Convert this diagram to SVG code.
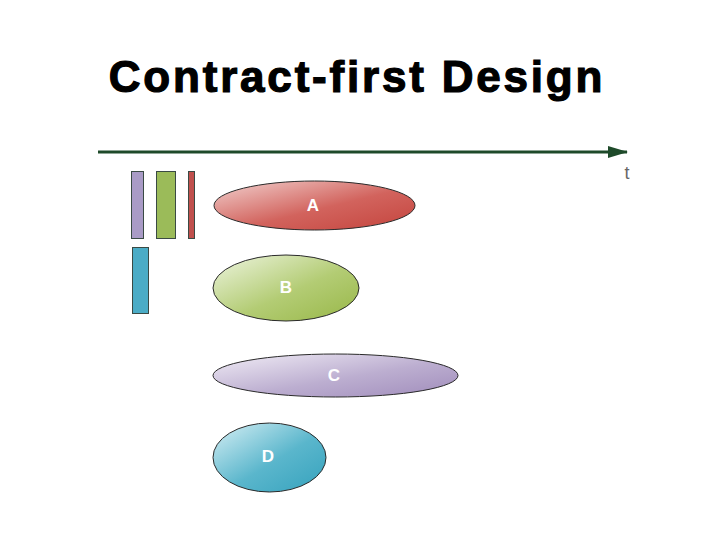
<svg xmlns="http://www.w3.org/2000/svg" width="720" height="540" viewBox="0 0 720 540">
<style>
.title{font-family:"Liberation Sans",Arial,sans-serif;font-weight:bold;font-size:44px;fill:#000;stroke:#000;stroke-width:1.2}
.lbl{font-family:"Liberation Sans",Arial,sans-serif;font-weight:bold;font-size:17px;fill:#fff;text-anchor:middle;dominant-baseline:central}
.bar{stroke:#3a4a44;stroke-width:1}
.ell{stroke:#2a2a2a;stroke-width:1}
</style>
<defs>
<linearGradient id="gA" x1="0" y1="0" x2="1" y2="1"><stop offset="0" stop-color="#f2d2d0"/><stop offset="0.55" stop-color="#d2635d"/><stop offset="1" stop-color="#c4443d"/></linearGradient>
<linearGradient id="gB" x1="0" y1="0" x2="1" y2="1"><stop offset="0" stop-color="#eef5e0"/><stop offset="0.55" stop-color="#b3cc74"/><stop offset="1" stop-color="#98b748"/></linearGradient>
<linearGradient id="gC" x1="0" y1="0" x2="1" y2="1"><stop offset="0" stop-color="#f1edf6"/><stop offset="0.55" stop-color="#bcaed0"/><stop offset="1" stop-color="#a08cbb"/></linearGradient>
<linearGradient id="gD" x1="0" y1="0" x2="1" y2="1"><stop offset="0" stop-color="#d8f0f5"/><stop offset="0.55" stop-color="#5ab6cc"/><stop offset="1" stop-color="#35a2bd"/></linearGradient>
<marker id="ah" markerWidth="20" markerHeight="14" refX="19" refY="7" orient="auto" markerUnits="userSpaceOnUse"><path d="M0,1 L20,7 L0,13 Z" fill="#1e4a2a"/></marker>
</defs>
<text class="title" x="357" y="92" text-anchor="middle" letter-spacing="2.8">Contract-first Design</text>
<g id="connectors">
<line x1="98" y1="152" x2="627" y2="152" stroke="#1e4a2a" stroke-width="3" marker-end="url(#ah)"/>
</g>
<text x="627" y="179" font-family="'Liberation Sans',Arial,sans-serif" font-size="18" fill="#666" text-anchor="middle">t</text>
<g id="bars">
<rect class="bar" x="131.5" y="171.5" width="12" height="67" fill="#a99bc6"/>
<rect class="bar" x="156.5" y="171.5" width="19" height="67" fill="#9bbb59"/>
<rect class="bar" x="188.5" y="171.5" width="6" height="67" fill="#c0504d"/>
<rect class="bar" x="132.5" y="247.5" width="16" height="66" fill="#4bacc6"/>
</g>
<g id="A"><ellipse class="ell" cx="314.5" cy="205.5" rx="100.5" ry="24.5" fill="url(#gA)"/><text class="lbl" x="313" y="205">A</text></g>
<g id="B"><ellipse class="ell" cx="286" cy="288" rx="73" ry="33" fill="url(#gB)"/><text class="lbl" x="286" y="287">B</text></g>
<g id="C"><ellipse class="ell" cx="335.5" cy="375.5" rx="122.5" ry="21.5" fill="url(#gC)"/><text class="lbl" x="334" y="375">C</text></g>
<g id="D"><ellipse class="ell" cx="269.5" cy="457.5" rx="56.5" ry="34.5" fill="url(#gD)"/><text class="lbl" x="268" y="456">D</text></g>
</svg>
